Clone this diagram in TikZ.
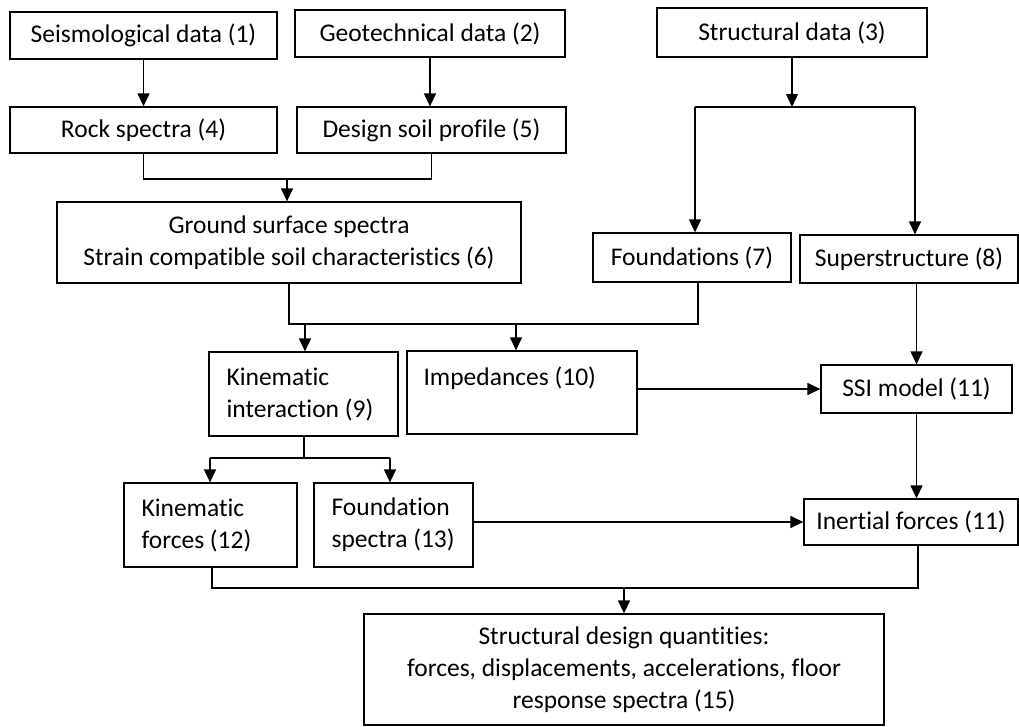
\documentclass[tikz,border=0pt]{standalone}
\usepackage{fontspec}
\setmainfont{Carlito}[Ligatures={NoCommon}]
\usetikzlibrary{arrows.meta}
\begin{document}
\begin{tikzpicture}[x=1pt,y=-1pt,
 txt/.style={font=\fontsize{25.5}{32}\selectfont},
 box/.style={draw, line width=1.3pt, inner sep=0pt, align=center, txt},
 ltxt/.style={txt, inner sep=0pt, align=left, anchor=west},
 ln/.style={line width=1.3pt},
 arr/.style={ln, -{Triangle[length=13pt,width=12pt]}}]
\useasboundingbox (0,0) rectangle (1019,726);
% boxes
\node[box, minimum width=267pt, minimum height=47pt] (n1) at (143.5,35.5) {Seismological data (1)};
\node[box, minimum width=270pt, minimum height=47pt] (n2) at (430,33.5) {Geotechnical data (2)};
\node[box, minimum width=270pt, minimum height=49pt] (n3) at (792,32.5) {Structural data (3)};
\node[box, minimum width=267pt, minimum height=46pt] (n4) at (143.5,130) {Rock spectra (4)};
\node[box, minimum width=269pt, minimum height=46pt] (n5) at (431.5,130) {Design soil profile (5)};
\node[box, minimum width=464pt, minimum height=81pt] (n6) at (289,242.5) {Ground surface spectra\\Strain compatible soil characteristics (6)};
\node[box, minimum width=198pt, minimum height=49pt] (n7) at (692,257.5) {Foundations (7)};
\node[box, minimum width=218pt, minimum height=48pt] (n8) at (909,259) {Superstructure (8)};
\node[box, minimum width=189pt, minimum height=84pt] (n9) at (303.5,394) {};
\node[box, minimum width=230pt, minimum height=83pt] (n10) at (522,392.5) {};
\node[box, minimum width=191pt, minimum height=48pt] (n11) at (916.5,389) {SSI model (11)};
\node[box, minimum width=173pt, minimum height=84pt] (n12) at (210.5,525) {};
\node[box, minimum width=159pt, minimum height=84pt] (n13) at (393.5,525) {};
\node[box, minimum width=214pt, minimum height=46pt] (n14) at (911,522) {Inertial forces (11)};
\node[box, minimum width=520pt, minimum height=111pt] (n15) at (624,669.5) {Structural design quantities:\\forces, displacements, accelerations, floor\\response spectra (15)};
% left-aligned texts
\node[ltxt] (t9) at ([xshift=18pt]n9.west) {Kinematic\\interaction (9)};
\node[ltxt] (t10) at ([xshift=17pt]n10.west) {Impedances (10)\\\mbox{}};
\node[ltxt] (t12) at ([xshift=18pt]n12.west) {Kinematic\\forces (12)};
\node[ltxt] (t13) at ([xshift=18pt]n13.west) {Foundation\\spectra (13)};
% junction coordinates
\coordinate (j1) at (287,179);
\coordinate (s7) at (695,107);
\coordinate (s8) at (915,107);
\coordinate (j2) at (698,324);
\coordinate (a9) at (305,324);
\coordinate (a10) at (516,324);
\coordinate (b9) at (304,458);
\coordinate (b12) at (210,458);
\coordinate (b13) at (390,458);
\coordinate (k1) at (212,588);
\coordinate (k2) at (918,588);
\coordinate (k3) at (624,588);
% connectors
\draw[arr] (n1.south) -- (n4.north);
\draw[arr] (n2.south) -- (n2.south |- n5.north);
\draw[ln] (n4.south) |- (j1) -| (n5.south);
\draw[arr] (j1) -- (j1 |- n6.north);
\draw[arr] (n3.south) -- (n3.south |- s7);
\draw[ln] (s7) -- (s8);
\draw[arr] (s7) -- (s7 |- n7.north);
\draw[arr] (s8) -- (s8 |- n8.north);
\draw[ln] (n6.south) |- (j2) -- (j2 |- n7.south);
\draw[arr] (a9) -- (a9 |- n9.north);
\draw[arr] (a10) -- (a10 |- n10.north);
\draw[arr] (n10.east |- n11.west) -- (n11.west);
\draw[arr] (n11.north |- n8.south) -- (n11.north);
\draw[arr] (n11.south) -- (n11.south |- n14.north);
\draw[ln] (b9 |- n9.south) -- (b9);
\draw[ln] (b12) -- (b13);
\draw[arr] (b12) -- (b12 |- n12.north);
\draw[arr] (b13) -- (b13 |- n13.north);
\draw[arr] (n13.east |- n14.west) -- (n14.west);
\draw[ln] (k1 |- n12.south) -- (k1) -- (k2) -- (k2 |- n14.south);
\draw[arr] (k3) -- (n15.north);
\end{tikzpicture}
\end{document}
